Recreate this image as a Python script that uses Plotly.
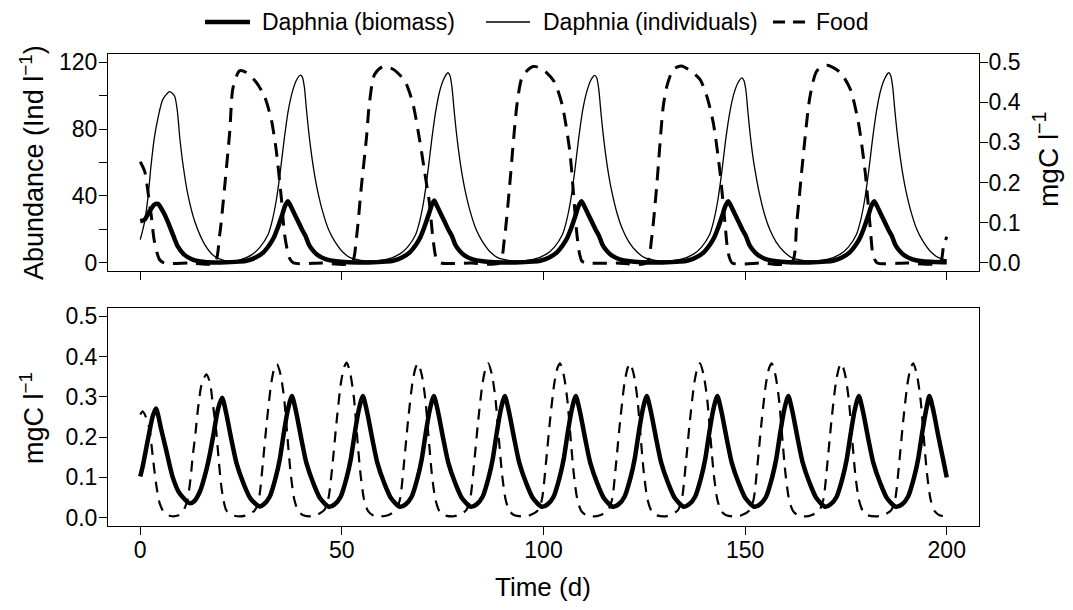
import plotly.graph_objects as go

# ---------------- data ----------------
# Top panel: Food (mgC/l, right axis)
top_food_pts = [
    (0, 0.252), (1.1, 0.228), (1.9, 0.178), (2.7, 0.12), (3.5, 0.054), (4.8, 0.008), (6, 0), (12, 0),
    (18.4, 0), (19.7, 0.07), (20.9, 0.187), (22.2, 0.328), (23, 0.436), (24.6, 0.478), (26.3, 0.474),
    (28.8, 0.449), (30.8, 0.415), (32.5, 0.357), (33.7, 0.282), (35, 0.16), (35.8, 0.07), (37, 0.012),
    (38, 0), (45, 0),
    (52.4, 0), (53.6, 0.062), (54.8, 0.187), (56.1, 0.312), (56.8, 0.395), (58.1, 0.469), (60.2, 0.489),
    (62.7, 0.482), (65.6, 0.453), (67.6, 0.397), (69.3, 0.305), (70.5, 0.228), (71.7, 0.15), (72.6, 0.06),
    (73.5, 0.008), (74.5, 0), (82, 0),
    (89.1, 0), (90.3, 0.06), (91.5, 0.18), (92.6, 0.31), (93.5, 0.4), (94.8, 0.465), (97.4, 0.489),
    (99.8, 0.482), (102.6, 0.452), (104.6, 0.395), (106.5, 0.28), (107.3, 0.19), (108.1, 0.09),
    (108.8, 0.03), (109.5, 0.005), (110.5, 0), (118, 0),
    (125.6, 0), (126.8, 0.06), (128, 0.183), (129.7, 0.39), (130.6, 0.44), (132.2, 0.482), (134.2, 0.49),
    (136.5, 0.478), (138.8, 0.457), (140.5, 0.415), (142.1, 0.349), (143.8, 0.224), (145, 0.1),
    (145.8, 0.025), (146.8, 0), (154, 0),
    (161.5, 0), (162.8, 0.1), (164.4, 0.266), (166.1, 0.415), (167.8, 0.478), (170.3, 0.492),
    (173.6, 0.474), (176.1, 0.432), (178.1, 0.349), (179.8, 0.224), (181, 0.091), (181.8, 0.016),
    (182.8, 0), (190, 0), (198.3, 0), (199.2, 0.041), (200, 0.065),
]

# Top panel: Daphnia individuals (Ind/l, left axis)
top_ind_pts = [
    (0, 13.9), (1.1, 24.9), (1.9, 38.9), (2.7, 58.8), (3.5, 74.8), (4.4, 86.7), (5.6, 97.7), (7.3, 102.3),
    (8.5, 99.7), (9.2, 90.7), (9.8, 74.8), (10.6, 58.8), (11.8, 40.9), (13.5, 24.9), (16, 11), (18.4, 4),
    (20.9, 1.4), (23, 0.9),
    (24.7, 1.8), (27.7, 5), (29.7, 9.5), (31.7, 17), (32.7, 25), (33.7, 37), (34.7, 54), (35.7, 74),
    (36.7, 91), (37.7, 102), (38.7, 109), (39.7, 112.2), (40.2, 111), (40.7, 105), (41.2, 92), (41.7, 80),
    (42.4, 66), (43.2, 53), (43.9, 44), (45.2, 31), (46.7, 20), (48.2, 13), (50.2, 6.5), (52.2, 3),
    (54.7, 1.6), (57.7, 1.3),
    (61.3, 2.3), (64.3, 5.3), (66.3, 9.5), (68.3, 17), (69.3, 25), (70.3, 37), (71.3, 54), (72.3, 74),
    (73.3, 91), (74.3, 103), (75.3, 110), (76.3, 113.6), (76.8, 112), (77.3, 105), (77.8, 92), (78.3, 80),
    (79, 66), (79.8, 53), (80.5, 44), (81.8, 31), (83.3, 20), (84.8, 13), (86.8, 6.5), (88.8, 3),
    (91.3, 1.6), (94.3, 1.3),
    (97.7, 2.3), (100.7, 5.3), (102.7, 9.5), (104.7, 17), (105.7, 25), (106.7, 37), (107.7, 54),
    (108.7, 74), (109.7, 91), (110.7, 102), (111.7, 109), (112.7, 112), (113.2, 110.5), (113.7, 104),
    (114.2, 91), (114.7, 79), (115.4, 65), (116.2, 52), (116.9, 43), (118.2, 30), (119.7, 19.5),
    (121.2, 12.5), (123.2, 6.5), (125.2, 3), (127.7, 1.6), (130.7, 1.3),
    (134.2, 2.3), (137.2, 5.3), (139.2, 9.5), (141.2, 17), (142.2, 25), (143.2, 37), (144.2, 54),
    (145.2, 74), (146.2, 90), (147.2, 101), (148.2, 107.5), (149.2, 110.6), (149.7, 109), (150.2, 103),
    (150.7, 90), (151.2, 78), (151.9, 64), (152.7, 52), (153.4, 43), (154.7, 30), (156.2, 19.5),
    (157.7, 12.5), (159.7, 6.5), (161.7, 3), (164.2, 1.6), (167.2, 1.3),
    (170.6, 2.3), (173.6, 5.3), (175.6, 9.5), (177.6, 17), (178.6, 25), (179.6, 37), (180.6, 54),
    (181.6, 74), (182.6, 91), (183.6, 103), (184.6, 110), (185.6, 113.6), (186.1, 112), (186.6, 105),
    (187.1, 92), (187.6, 80), (188.3, 66), (189.1, 53), (189.8, 44), (191.1, 31), (192.6, 20),
    (194.1, 13), (196.1, 6.5), (198.1, 3), (200, 1.8),
]

# Top panel: Daphnia biomass (left axis)
top_bio_pts = [
    (0, 24.9), (1.1, 25.9), (2.3, 30.9), (3.5, 34.9), (4.4, 35.3), (5.6, 30.9), (6.8, 24.9), (8.1, 16.9),
    (9.3, 9.9), (10.9, 5), (13, 2), (16, 0.6), (20, 0.3),
    (24.6, 0.8), (26.6, 1.5), (28.6, 3.2), (30.6, 6.5), (32.1, 11), (33.1, 15), (34.1, 21), (35.1, 28),
    (35.9, 34), (36.6, 36.9), (37.3, 34), (38.1, 30), (39.1, 25), (40.1, 20), (41, 16), (41.8, 11),
    (42.8, 7.5), (44.1, 4.5), (46.1, 2.2), (48.6, 1), (51.6, 0.5), (56.6, 0.3),
    (60.9, 0.8), (62.9, 1.5), (64.9, 3.2), (66.9, 6.5), (68.4, 11), (69.4, 15), (70.4, 21), (71.4, 28),
    (72.2, 34), (72.9, 37.3), (73.6, 34), (74.4, 30), (75.4, 25), (76.4, 20), (77.3, 16), (78.1, 11),
    (79.1, 7.5), (80.4, 4.5), (82.4, 2.2), (84.9, 1), (87.9, 0.5), (92.9, 0.3),
    (97.4, 0.8), (99.4, 1.5), (101.4, 3.2), (103.4, 6.5), (104.9, 11), (105.9, 15), (106.9, 21),
    (107.9, 28), (108.7, 34), (109.4, 36.9), (110.1, 34), (110.9, 30), (111.9, 25), (112.9, 20),
    (113.8, 16), (114.6, 11), (115.6, 7.5), (116.9, 4.5), (118.9, 2.2), (121.4, 1), (124.4, 0.5),
    (129.4, 0.3),
    (133.8, 0.8), (135.8, 1.5), (137.8, 3.2), (139.8, 6.5), (141.3, 11), (142.3, 15), (143.3, 21),
    (144.3, 28), (145.1, 34), (145.8, 36.9), (146.5, 34), (147.3, 30), (148.3, 25), (149.3, 20),
    (150.2, 16), (151, 11), (152, 7.5), (153.3, 4.5), (155.3, 2.2), (157.8, 1), (160.8, 0.5),
    (165.8, 0.3),
    (170, 0.8), (172, 1.5), (174, 3.2), (176, 6.5), (177.5, 11), (178.5, 15), (179.5, 21), (180.5, 28),
    (181.3, 34), (182, 36.9), (182.7, 34), (183.5, 30), (184.5, 25), (185.5, 20), (186.4, 16),
    (187.2, 11), (188.2, 7.5), (189.5, 4.5), (191.5, 2.2), (194, 1), (197, 0.6), (200, 0.5),
]

# Bottom panel: Daphnia biomass (mgC/l)
bot_bio_pts = [
    (0, 0.102), (0.6, 0.127), (1.9, 0.194), (3.1, 0.252), (3.9, 0.271), (5.2, 0.219), (6.4, 0.169),
    (8, 0.102), (9.7, 0.061), (12.2, 0.036),
    (13.3, 0.04), (14.8, 0.065), (16.3, 0.115), (17.3, 0.16), (18.3, 0.215), (19.3, 0.27), (20.3, 0.298),
    (21.3, 0.26), (22.6, 0.194), (23.9, 0.134), (25.6, 0.085), (27.3, 0.048), (29.5, 0.028),
    (30.6, 0.033), (32.1, 0.052), (33.6, 0.1), (34.6, 0.145), (35.6, 0.21), (36.6, 0.268), (37.6, 0.302),
    (38.6, 0.265), (39.9, 0.198), (41.2, 0.136), (42.9, 0.086), (44.6, 0.048), (46.8, 0.027),
    (48.2, 0.033), (49.7, 0.052), (51.2, 0.1), (52.2, 0.145), (53.2, 0.21), (54.2, 0.268), (55.2, 0.302),
    (56.2, 0.265), (57.5, 0.198), (58.8, 0.136), (60.5, 0.086), (62.2, 0.048), (64.4, 0.027),
    (65.8, 0.033), (67.3, 0.052), (68.8, 0.1), (69.8, 0.145), (70.8, 0.21), (71.8, 0.268), (72.8, 0.302),
    (73.8, 0.265), (75.1, 0.198), (76.4, 0.136), (78.1, 0.086), (79.8, 0.048), (82, 0.027),
    (83.4, 0.033), (84.9, 0.052), (86.4, 0.1), (87.4, 0.145), (88.4, 0.21), (89.4, 0.268), (90.4, 0.302),
    (91.4, 0.265), (92.7, 0.198), (94, 0.136), (95.7, 0.086), (97.4, 0.048), (99.6, 0.027),
    (101, 0.033), (102.5, 0.052), (104, 0.1), (105, 0.145), (106, 0.21), (107, 0.268), (108, 0.302),
    (109, 0.265), (110.3, 0.198), (111.6, 0.136), (113.3, 0.086), (115, 0.048), (117.2, 0.027),
    (118.6, 0.033), (120.1, 0.052), (121.6, 0.1), (122.6, 0.145), (123.6, 0.21), (124.6, 0.268),
    (125.6, 0.302), (126.6, 0.265), (127.9, 0.198), (129.2, 0.136), (130.9, 0.086), (132.6, 0.048),
    (134.8, 0.027),
    (136.1, 0.033), (137.6, 0.052), (139.1, 0.1), (140.1, 0.145), (141.1, 0.21), (142.1, 0.268),
    (143.1, 0.302), (144.1, 0.265), (145.4, 0.198), (146.7, 0.136), (148.4, 0.086), (150.1, 0.048),
    (152.3, 0.027),
    (153.7, 0.033), (155.2, 0.052), (156.7, 0.1), (157.7, 0.145), (158.7, 0.21), (159.7, 0.268),
    (160.7, 0.302), (161.7, 0.265), (163, 0.198), (164.3, 0.136), (166, 0.086), (167.7, 0.048),
    (169.9, 0.027),
    (171.2, 0.033), (172.7, 0.052), (174.2, 0.1), (175.2, 0.145), (176.2, 0.21), (177.2, 0.268),
    (178.2, 0.302), (179.2, 0.265), (180.5, 0.198), (181.8, 0.136), (183.5, 0.086), (185.2, 0.048),
    (187.4, 0.027),
    (188.9, 0.033), (190.4, 0.052), (191.9, 0.1), (192.9, 0.145), (193.9, 0.21), (194.9, 0.268),
    (195.7, 0.302), (196.7, 0.265), (198, 0.198), (199.2, 0.14), (200, 0.1),
]

# Bottom panel: Food (mgC/l)
bot_food_pts = [
    (0, 0.256), (0.6, 0.264), (1.4, 0.25), (2.3, 0.219), (3.1, 0.152), (3.9, 0.086), (4.8, 0.036),
    (6, 0.011), (7.5, 0.004), (9.5, 0.006), (10.6, 0.015), (11.7, 0.044), (12.5, 0.1), (13, 0.152),
    (13.7, 0.21), (14.3, 0.269), (15.2, 0.33), (16.4, 0.356), (17.3, 0.335), (17.9, 0.29), (18.8, 0.219),
    (19.4, 0.15), (20, 0.086), (20.6, 0.045), (21.3, 0.019), (22.5, 0.007), (24.6, 0.003),
    (26.4, 0.006), (28.4, 0.018), (29.4, 0.045), (30.4, 0.135), (31.4, 0.24), (32.5, 0.335), (33.3, 0.373),
    (33.9, 0.381), (34.8, 0.355), (35.7, 0.294), (36.5, 0.2), (37.3, 0.11), (38.2, 0.045), (39.2, 0.016),
    (40.4, 0.006), (42.4, 0.003),
    (43.7, 0.006), (45.7, 0.02), (46.7, 0.05), (47.7, 0.135), (48.7, 0.24), (49.8, 0.337), (50.6, 0.375),
    (51.2, 0.385), (52.1, 0.357), (53, 0.296), (53.8, 0.2), (54.6, 0.11), (55.5, 0.045), (56.5, 0.016),
    (57.7, 0.006), (59.7, 0.003),
    (61.4, 0.006), (63.4, 0.018), (64.4, 0.045), (65.4, 0.135), (66.4, 0.24), (67.5, 0.335), (68.3, 0.373),
    (68.9, 0.383), (69.8, 0.355), (70.7, 0.294), (71.5, 0.2), (72.3, 0.11), (73.2, 0.045), (74.2, 0.016),
    (75.4, 0.006), (77.4, 0.003),
    (78.8, 0.006), (80.8, 0.018), (81.8, 0.045), (82.8, 0.135), (83.8, 0.24), (84.9, 0.335), (85.7, 0.373),
    (86.3, 0.383), (87.2, 0.355), (88.1, 0.294), (88.9, 0.2), (89.7, 0.11), (90.6, 0.045), (91.6, 0.016),
    (92.8, 0.006), (94.8, 0.003),
    (96.6, 0.006), (98.6, 0.018), (99.6, 0.045), (100.6, 0.135), (101.6, 0.24), (102.7, 0.335),
    (103.5, 0.373), (104.1, 0.383), (105, 0.355), (105.9, 0.294), (106.7, 0.2), (107.5, 0.11),
    (108.4, 0.045), (109.4, 0.016), (110.6, 0.006), (112.6, 0.003),
    (114, 0.006), (116, 0.018), (117, 0.045), (118, 0.135), (119, 0.24), (120.1, 0.335), (120.9, 0.373),
    (121.5, 0.383), (122.4, 0.355), (123.3, 0.294), (124.1, 0.2), (124.9, 0.11), (125.8, 0.045),
    (126.8, 0.016), (128, 0.006), (130, 0.003),
    (131.3, 0.006), (133.3, 0.018), (134.3, 0.045), (135.3, 0.135), (136.3, 0.24), (137.4, 0.335),
    (138.2, 0.373), (138.8, 0.383), (139.7, 0.355), (140.6, 0.294), (141.4, 0.2), (142.2, 0.11),
    (143.1, 0.045), (144.1, 0.016), (145.3, 0.006), (147.3, 0.003),
    (149.1, 0.006), (151.1, 0.018), (152.1, 0.045), (153.1, 0.135), (154.1, 0.24), (155.2, 0.335),
    (156, 0.373), (156.6, 0.383), (157.5, 0.355), (158.4, 0.294), (159.2, 0.2), (160, 0.11),
    (160.9, 0.045), (161.9, 0.016), (163.1, 0.006), (165.1, 0.003),
    (166.4, 0.006), (168.4, 0.018), (169.4, 0.045), (170.4, 0.135), (171.4, 0.24), (172.5, 0.335),
    (173.3, 0.373), (173.9, 0.383), (174.8, 0.355), (175.7, 0.294), (176.5, 0.2), (177.3, 0.11),
    (178.2, 0.045), (179.2, 0.016), (180.4, 0.006), (182.4, 0.003),
    (184.2, 0.006), (186.2, 0.018), (187.2, 0.045), (188.2, 0.135), (189.2, 0.24), (190.3, 0.335),
    (191.1, 0.373), (191.7, 0.383), (192.6, 0.355), (193.5, 0.294), (194.3, 0.2), (195.1, 0.11),
    (196, 0.045), (197, 0.016), (198.2, 0.006), (200, 0.003),
]

time_ticks = [0, 50, 100, 150, 200]
abund_ticks = [0, 40, 80, 120]
abund_minor_ticks = [20, 60, 100]
mgc_ticks = [0.0, 0.1, 0.2, 0.3, 0.4, 0.5]
mgc_labels = ["0.0", "0.1", "0.2", "0.3", "0.4", "0.5"]
legend_names = ["Daphnia (biomass)", "Daphnia (individuals)", "Food"]


def unzip(pts):
    return [p[0] for p in pts], [p[1] for p in pts]


# ---------------- figure ----------------
# The page body has an 8px margin, so the figure is drawn 16px smaller on each axis
# and all window-pixel positions are shifted by that offset.
WIN_W, WIN_H = 1073, 610
OFF = 8
W, H = WIN_W - 2 * OFF, WIN_H - 2 * OFF
FONT = "Liberation Sans, Arial, Helvetica, sans-serif"
TICK_FS = 23
TITLE_FS = 27


def px_x(x):
    return (x - OFF) / W


def px_y(y):
    return 1 - (y - OFF) / H


fig = go.Figure()

t, v = unzip(top_bio_pts)
fig.add_trace(go.Scatter(x=t, y=v, xaxis="x", yaxis="y", mode="lines", name=legend_names[0],
                         line=dict(color="black", width=4.5, shape="spline", smoothing=0.7)))
t, v = unzip(top_ind_pts)
fig.add_trace(go.Scatter(x=t, y=v, xaxis="x", yaxis="y", mode="lines", name=legend_names[1],
                         line=dict(color="black", width=1.3, shape="spline", smoothing=0.7)))
t, v = unzip(top_food_pts)
fig.add_trace(go.Scatter(x=t, y=v, xaxis="x", yaxis="y2", mode="lines", name=legend_names[2],
                         line=dict(color="black", width=3, dash="14px,9px", shape="spline", smoothing=0.7)))
t, v = unzip(bot_bio_pts)
fig.add_trace(go.Scatter(x=t, y=v, xaxis="x2", yaxis="y3", mode="lines", name=legend_names[0],
                         line=dict(color="black", width=4.5, shape="spline", smoothing=0.7)))
t, v = unzip(bot_food_pts)
fig.add_trace(go.Scatter(x=t, y=v, xaxis="x2", yaxis="y3", mode="lines", name=legend_names[2],
                         line=dict(color="black", width=2.2, dash="11px,8px", shape="spline", smoothing=0.7)))

xdom = [px_x(108), px_x(979)]
axis_common = dict(showgrid=False, zeroline=False, showline=True, linecolor="black", linewidth=1,
                   ticks="outside", ticklen=8, tickwidth=1, tickcolor="black", automargin=False,
                   tickfont=dict(family=FONT, size=TICK_FS, color="black"))

fig.update_layout(
    width=W, height=H, autosize=False,
    margin=dict(l=0, r=0, t=0, b=0, autoexpand=False),
    paper_bgcolor="white", plot_bgcolor="white",
    showlegend=False,
    font=dict(family=FONT, size=TICK_FS, color="black"),
    xaxis=dict(domain=xdom, anchor="y", range=[-8, 208], tickvals=time_ticks,
               showticklabels=False, mirror=True, **axis_common),
    yaxis=dict(domain=[px_y(271), px_y(54)], anchor="x", range=[-4.8, 124.8],
               tickvals=abund_ticks, ticktext=[str(v) for v in abund_ticks], mirror=True,
               ticklabelstandoff=-3,
               minor=dict(tickvals=abund_minor_ticks, ticks="outside", ticklen=8, tickwidth=1,
                          tickcolor="black", showgrid=False),
               **axis_common),
    yaxis2=dict(overlaying="y", side="right", anchor="x", range=[-0.02, 0.52],
                tickvals=mgc_ticks, ticktext=mgc_labels, ticklabelstandoff=-4, **axis_common),
    xaxis2=dict(domain=xdom, anchor="y3", range=[-8, 208], tickvals=time_ticks,
                ticktext=[str(x) for x in time_ticks], mirror=True, ticklabelstandoff=-4,
                **axis_common),
    yaxis3=dict(domain=[px_y(525.7), px_y(308.3)], anchor="x2", range=[-0.02, 0.52],
                tickvals=mgc_ticks, ticktext=mgc_labels, mirror=True, ticklabelstandoff=-3,
                **axis_common),
)

annotations = [
    dict(text="Abundance (Ind l<sup>−1</sup>)", x=px_x(32), y=px_y(163), textangle=-90, size=TITLE_FS),
    dict(text="mgC l<sup>−1</sup>", x=px_x(1046), y=px_y(160), textangle=-90, size=28),
    dict(text="mgC l<sup>−1</sup>", x=px_x(32), y=px_y(418), textangle=-90, size=TITLE_FS),
    dict(text="Time (d)", x=px_x(543), y=px_y(587), textangle=0, size=26),
]
for a in annotations:
    size = a.pop("size")
    fig.add_annotation(xref="paper", yref="paper", showarrow=False, xanchor="center", yanchor="middle",
                       font=dict(family=FONT, size=size, color="black"), **a)

# legend drawn manually at the top
leg_y = px_y(22)
leg_items = [
    (205, 250, 4.5, "solid", 260, legend_names[0]),
    (486, 530, 1.3, "solid", 541, legend_names[1]),
    (773, 805, 3, "12px,8px", 814, legend_names[2]),
]
for x0, x1, w, dash, tx, name in leg_items:
    fig.add_shape(type="line", xref="paper", yref="paper", x0=px_x(x0), x1=px_x(x1), y0=leg_y, y1=leg_y,
                  line=dict(color="black", width=w, dash=dash))
    fig.add_annotation(xref="paper", yref="paper", x=px_x(tx), y=leg_y, text=name, showarrow=False,
                       xanchor="left", yanchor="middle",
                       font=dict(family=FONT, size=TICK_FS, color="black"))

fig.write_html("out.html")
